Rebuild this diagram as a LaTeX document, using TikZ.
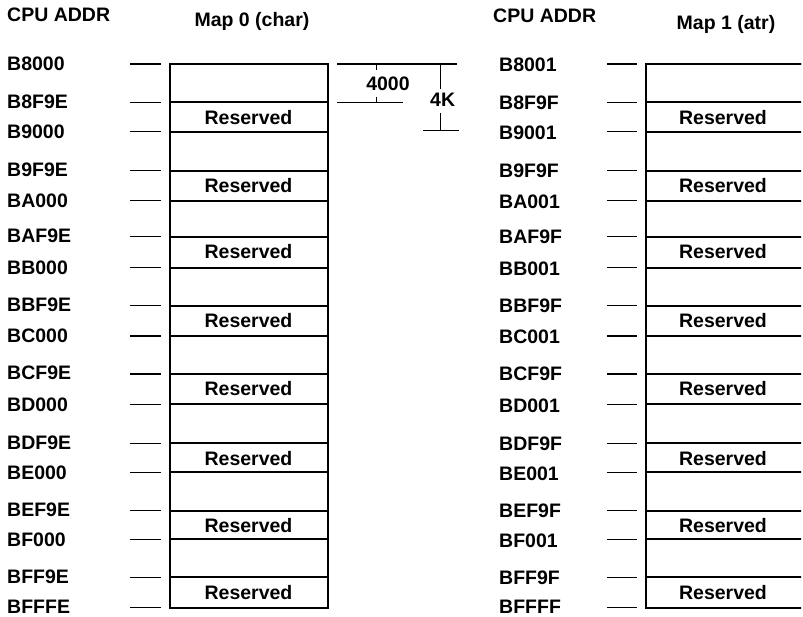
\documentclass[tikz,border=0pt]{standalone}
\usepackage{fontspec}
\setmainfont{Liberation Sans}
\usetikzlibrary{positioning}

\begin{document}
\begin{tikzpicture}[
  x=1pt, y=-1pt,
  font=\bfseries\fontsize{19.5}{22}\selectfont,
  addr/.style={anchor=west, inner sep=0pt},
  title/.style={inner sep=0pt},
  tick/.style={line width=1.4pt},
  edge/.style={line width=2pt},
  dim/.style={line width=1.5pt}
]
  \useasboundingbox (0,0) rectangle (803,617);
  \clip (0,0) rectangle (801,617);

  % column headings
  \node[addr] (cpu0) at (7,15) {CPU ADDR};
  \node[title] (map0) at (252,21) {Map 0 (char)};
  \node[addr] (cpu1) at (493,16) {CPU ADDR};
  \node[title] (map1) at (726,24) {Map 1 (atr)};

  % the two maps; the right one runs past the page edge
  \draw[edge] (169.5,64) rectangle (327.5,607.7);
  \draw[edge] (646,64) rectangle (830,607.7);

  % one 4K page per row: start line, reserved band, labels
  \foreach \h/\s/\r in {8/64/102.3, 9/131.7/170.7, A/200.7/236.7, B/267.7/305.7,
                        C/336/374, D/404.3/443.3, E/472.3/510.7, F/539.3/577.3} {
    \draw[edge] (169.5,\s) -- (327.5,\s) (169.5,\r) -- (327.5,\r);
    \draw[edge] (646,\s) -- (830,\s) (646,\r) -- (830,\r);
    \draw[tick] (130,\s) -- (161,\s) (130,\r) -- (161,\r);
    \draw[tick] (607,\s) -- (637,\s) (607,\r) -- (637,\r);
    \node[addr] (lstart\h) at (7,\s) {B\h000};
    \node[addr] (lres\h) at (7,\r-1) {B\h F9E};
    \node[addr] (rstart\h) at (499,\s+1) {B\h001};
    \node[addr] (rres\h) at (499,\r) {B\h F9F};
    \node[title] (lband\h) at (248.5,\r+15) {Reserved};
    \node[title] (rband\h) at (723,\r+15) {Reserved};
  }
  \draw[tick] (130,607.7) -- (161,607.7);
  \draw[tick] (607,607.7) -- (637,607.7);
  \node[addr] (lend) at (7,606.5) {BFFFE};
  \node[addr] (rend) at (499,606.5) {BFFFF};

  % size marks beside the first page
  \draw[dim] (337,64) -- (457,64);
  \draw[dim] (337,102.7) -- (403,102.7);
  \draw[dim] (423,130.7) -- (459,130.7);
  \node[title] (used) at (388,83.5) {4000};
  \draw[dim] (376.7,64) -- (376.7,70) (376.7,96.7) -- (376.7,102.7);
  \node[title] (page) at (442.7,100) {4K};
  \draw[dim] (440.7,64) -- (440.7,89.3) (440.7,113.3) -- (440.7,130.7);
\end{tikzpicture}
\end{document}
